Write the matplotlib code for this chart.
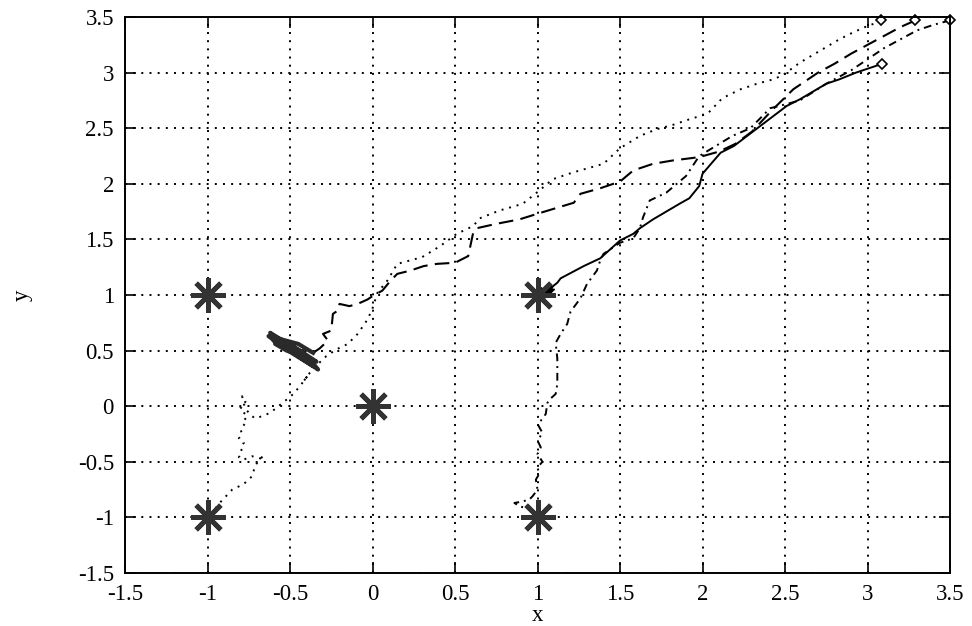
import numpy as np
import matplotlib
matplotlib.use("Agg")
import matplotlib.pyplot as plt

plt.rcParams['font.family'] = ['Liberation Serif', 'DejaVu Serif']
plt.rcParams['axes.unicode_minus'] = False

# goal positions
goal_x = [-1, -1, 0, 1, 1]
goal_y = [1, -1, 0, 1, -1]

# starting points of the four runs
start_x = [3.08, 3.29, 3.50, 3.09]
start_y = [3.47, 3.47, 3.47, 3.08]

# run 1 (dotted): ends at (-1,-1)
r1_x = [3.08, 3.00, 2.91, 2.83, 2.75, 2.67, 2.59, 2.49, 2.43, 2.33, 2.23, 2.12, 2.03, 1.92, 1.82,
        1.72, 1.62, 1.50, 1.40, 1.21, 1.09, 1.02, 0.91, 0.77, 0.65, 0.61, 0.51, 0.41, 0.30, 0.15,
        0.09, 0.03, 0.00, -0.03, -0.09, -0.15, -0.22, -0.28, -0.33, -0.38, -0.42, -0.40, -0.44,
        -0.48, -0.52, -0.57, -0.62, -0.67, -0.71, -0.74, -0.76, -0.78, -0.79, -0.77, -0.80,
        -0.77, -0.79, -0.76, -0.78, -0.80, -0.79, -0.81, -0.78, -0.80, -0.79, -0.81, -0.78,
        -0.73, -0.68, -0.66, -0.71, -0.73, -0.78, -0.85, -0.92, -0.97, -1.00]
r1_y = [3.46, 3.42, 3.36, 3.30, 3.23, 3.16, 3.09, 2.98, 2.94, 2.90, 2.85, 2.77, 2.63, 2.58, 2.53,
        2.49, 2.43, 2.32, 2.18, 2.10, 2.04, 1.95, 1.82, 1.76, 1.69, 1.62, 1.55, 1.44, 1.34, 1.28,
        1.13, 1.02, 0.88, 0.78, 0.65, 0.56, 0.51, 0.45, 0.38, 0.30, 0.22, 0.26, 0.18,
        0.11, 0.06, 0.00, -0.06, -0.09, -0.11, -0.08, -0.04, 0.02, 0.09, 0.04, -0.01,
        -0.05, -0.09, -0.13, -0.17, -0.21, -0.25, -0.29, -0.33, -0.37, -0.41, -0.46, -0.48,
        -0.45, -0.47, -0.44, -0.53, -0.63, -0.70, -0.75, -0.86, -0.95, -1.00]

# run 2 (dashed): gets stuck near (-0.5, 0.5)
r2_x = [3.29, 3.20, 3.10, 3.00, 2.90, 2.80, 2.70, 2.55, 2.42, 2.30, 2.20, 2.10, 1.98, 1.82, 1.70,
        1.58, 1.50, 1.38, 1.26, 1.22, 1.02, 0.89, 0.75, 0.63, 0.61, 0.58, 0.50, 0.39, 0.31, 0.23,
        0.15, 0.11, 0.06, 0.00, -0.03, -0.09, -0.14, -0.20, -0.21, -0.24, -0.25, -0.30, -0.27,
        -0.32, -0.36]
r2_y = [3.47, 3.41, 3.33, 3.25, 3.17, 3.08, 3.00, 2.85, 2.66, 2.47, 2.36, 2.29, 2.24, 2.21, 2.18,
        2.12, 2.02, 1.96, 1.91, 1.83, 1.74, 1.68, 1.64, 1.60, 1.56, 1.35, 1.29, 1.28, 1.26, 1.22,
        1.19, 1.13, 1.04, 0.99, 0.96, 0.92, 0.90, 0.92, 0.86, 0.83, 0.68, 0.65, 0.59,
        0.52, 0.48]
# scribble where run 2 stalls
blob_x = [-0.36, -0.45, -0.60, -0.62, -0.50, -0.38, -0.33, -0.44, -0.56, -0.60, -0.48, -0.36,
          -0.40, -0.52, -0.58, -0.47, -0.42, -0.55, -0.63, -0.53, -0.45, -0.34, -0.46, -0.57,
          -0.50, -0.40, -0.52, -0.59, -0.49, -0.43, -0.54, -0.47, -0.51]
blob_y = [0.48, 0.56, 0.62, 0.66, 0.55, 0.42, 0.33, 0.44, 0.57, 0.59, 0.47, 0.36,
          0.45, 0.52, 0.58, 0.50, 0.49, 0.54, 0.63, 0.58, 0.48, 0.40, 0.52, 0.60,
          0.53, 0.44, 0.50, 0.56, 0.55, 0.47, 0.53, 0.51, 0.56]

# run 3 (dash-dot): ends at (1,-1)
r3_x = [3.50, 3.40, 3.30, 3.20, 3.10, 3.00, 2.90, 2.75, 2.59, 2.49, 2.41, 2.29, 2.18, 2.08, 1.98,
        1.90, 1.78, 1.68, 1.64, 1.62, 1.58, 1.50, 1.40, 1.38, 1.36, 1.30, 1.26, 1.20, 1.18, 1.14,
        1.11, 1.12, 1.12, 1.11, 1.08, 1.06, 1.05, 1.02, 1.00, 1.03, 1.00, 1.02, 1.00, 1.03,
        1.00, 1.01, 0.99, 1.00, 0.97, 0.95, 0.90, 0.86, 0.89, 0.94, 0.98, 1.00]
r3_y = [3.47, 3.43, 3.38, 3.30, 3.22, 3.12, 3.02, 2.90, 2.75, 2.71, 2.68, 2.50, 2.43, 2.34, 2.25,
        2.07, 1.92, 1.85, 1.70, 1.60, 1.51, 1.47, 1.37, 1.31, 1.22, 1.10, 0.97, 0.85, 0.74, 0.65,
        0.57, 0.43, 0.20, 0.11, 0.07, 0.03, -0.07, -0.13, -0.16, -0.24, -0.31, -0.37, -0.43, -0.50,
        -0.55, -0.61, -0.66, -0.75, -0.81, -0.84, -0.86, -0.87, -0.90, -0.92, -0.95, -1.00]

# run 4 (solid): ends at (1,1)
r4_x = [3.09, 3.03, 2.93, 2.83, 2.75, 2.67, 2.59, 2.51, 2.43, 2.35, 2.27, 2.19, 2.11, 2.04, 2.00,
        1.98, 1.92, 1.86, 1.78, 1.70, 1.62, 1.58, 1.50, 1.44, 1.38, 1.28, 1.14, 1.12, 1.06,
        1.02, 1.08, 0.98, 1.05, 1.10, 0.99, 1.04, 1.09, 1.02, 1.07, 1.00]
r4_y = [3.08, 3.05, 3.00, 2.94, 2.90, 2.83, 2.76, 2.70, 2.61, 2.52, 2.43, 2.34, 2.28, 2.16, 2.09,
        1.98, 1.87, 1.82, 1.75, 1.68, 1.60, 1.55, 1.49, 1.41, 1.33, 1.26, 1.15, 1.11, 1.04,
        1.06, 1.02, 1.04, 0.98, 1.05, 1.01, 0.97, 1.07, 1.03, 0.99, 1.00]

xticks = [-1.5, -1, -0.5, 0, 0.5, 1, 1.5, 2, 2.5, 3, 3.5]
yticks = [-1.5, -1, -0.5, 0, 0.5, 1, 1.5, 2, 2.5, 3, 3.5]
tick_labels = ['-1.5', '-1', '-0.5', '0', '0.5', '1', '1.5', '2', '2.5', '3', '3.5']

fig = plt.figure(figsize=(9.72, 6.26), dpi=100)
ax = fig.add_axes([0.1286, 0.0847, 0.8488, 0.8881])

ax.plot(r1_x, r1_y, color='k', lw=1.4, linestyle=(0, (1.0, 3.0)))
ax.plot(r2_x, r2_y, color='k', lw=1.5, linestyle=(0, (7, 3.5)))
ax.plot(blob_x, blob_y, color='#2a2a2a', lw=3.0)
ax.plot(r3_x, r3_y, color='k', lw=1.4, linestyle=(0, (4, 2.5, 1.0, 2.5)))
ax.plot(r4_x, r4_y, color='k', lw=1.4)

ax.plot(goal_x, goal_y, linestyle='none', marker=(8, 2, 0), markersize=25,
        markeredgewidth=3.5, color='#333333')
ax.plot(start_x, start_y, linestyle='none', marker='D', markersize=5,
        markerfacecolor='white', markeredgecolor='k', markeredgewidth=1.2, clip_on=False)

ax.set_xlim(-1.5, 3.5)
ax.set_ylim(-1.5, 3.5)
ax.set_xticks(xticks)
ax.set_xticklabels(tick_labels)
ax.set_yticks(yticks)
ax.set_yticklabels(tick_labels)
ax.grid(True, color='k', linewidth=1.4, linestyle=(0, (1.0, 3.2)))
ax.tick_params(direction='in', top=True, right=True, length=8, width=1.2,
               labelsize=16.5, pad=8)
for s in ax.spines.values():
    s.set_linewidth(1.4)

ax.set_xlabel('x', fontsize=16.5, labelpad=0)
ax.set_ylabel('y', fontsize=16.5, labelpad=32)

fig.savefig('out.png', dpi=100)
